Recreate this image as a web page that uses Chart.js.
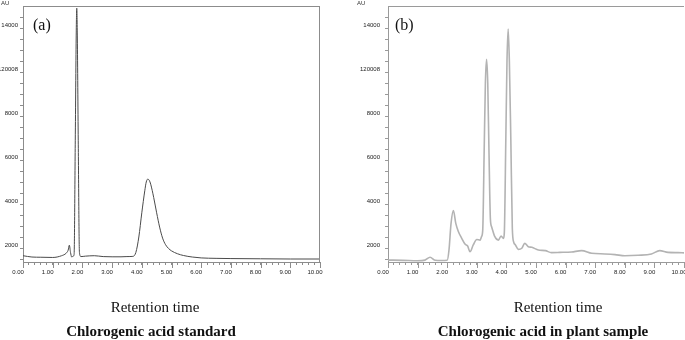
<!DOCTYPE html>
<html>
<head>
<meta charset="utf-8">
<script src="https://cdn.jsdelivr.net/npm/chart.js@4.4.0/dist/chart.umd.min.js"></script>
<style>
    body { margin: 0; background: #fff; }
    #wrap { position: relative; width: 685px; height: 340px; overflow: hidden; background: #fff; }
    canvas { position: absolute; top: 0; }
    .serif { position: absolute; font-family: 'Liberation Serif', 'Times New Roman', serif; color: #111; white-space: nowrap; transform: translate(-50%, -50%); }
    .cap { font-size: 15px; }
    .bold { font-size: 15px; font-weight: bold; }
    .tag { font-size: 16px; transform: translate(0, -50%); }
    .au { position: absolute; font-family: 'Liberation Sans', Arial, sans-serif; font-size: 6px; color: #333; top: 0px; }
</style>
</head>
<body>
<div id="wrap">
    <canvas id="chart_a" width="342" height="340" style="left:0px"></canvas>
    <canvas id="chart_b" width="343" height="340" style="left:342px"></canvas>

    <div class="au" style="left:1px">AU</div>
    <div class="au" style="left:357px">AU</div>
    <div class="serif tag" style="left:33px; top:25px">(a)</div>
    <div class="serif tag" style="left:395px; top:25px">(b)</div>

    <div class="serif cap" style="left:155px; top:307px">Retention time</div>
    <div class="serif bold" style="left:151px; top:331px">Chlorogenic acid standard</div>
    <div class="serif cap" style="left:558px; top:307px">Retention time</div>
    <div class="serif bold" style="left:543px; top:331px">Chlorogenic acid in plant sample</div>
</div>
<script>
// retention time (min) and detector signal
const times_a = [0, 0.3, 0.6, 1.0, 1.3, 1.45, 1.52, 1.56, 1.6, 1.64,
    1.68, 1.72, 1.76, 1.79, 1.81, 1.83, 1.86, 1.9, 1.95, 2.1,
    2.4, 2.7, 3.0, 3.3, 3.5, 3.7, 3.8, 3.9, 4.0, 4.1,
    4.15, 4.2, 4.25, 4.3, 4.4, 4.5, 4.6, 4.7, 4.8, 4.9,
    5.0, 5.2, 5.4, 5.7, 6.0, 6.5, 7.0, 8.0, 9.0, 10.0];
const signal_a = [1650, 1590, 1580, 1570, 1650, 1760, 1900, 2130, 1800, 1590,
    1620, 1700, 6900, 11500, 12900, 11500, 6900, 1800, 1610, 1630,
    1650, 1610, 1600, 1600, 1610, 1620, 1800, 2500, 3600, 4600,
    5000, 5130, 5080, 4900, 4300, 3600, 2950, 2450, 2150, 1980,
    1870, 1740, 1660, 1590, 1550, 1530, 1520, 1510, 1500, 1500];

const times_b = [0, 0.5, 1.0, 1.25, 1.42, 1.6, 1.8, 2.0,
    2.06, 2.13, 2.21, 2.29, 2.38, 2.49, 2.6, 2.69, 2.77, 2.88,
    3.0, 3.11, 3.16, 3.2, 3.25, 3.29, 3.33, 3.37, 3.41, 3.46,
    3.5, 3.61, 3.73, 3.82, 3.9, 3.93, 3.98, 4.02, 4.06, 4.1,
    4.15, 4.2, 4.25, 4.3, 4.4, 4.52, 4.62, 4.74, 4.86, 5.08,
    5.32, 5.52, 5.8, 6.2, 6.54, 6.88, 7.33, 7.67, 8.0, 8.45,
    8.9, 9.18, 9.46, 9.8, 10.0];
const signal_b = [1450, 1440, 1420, 1450, 1580, 1440, 1430, 1440,
    1900, 3120, 3700, 3120, 2740, 2440, 2180, 2090, 1830, 2140,
    2390, 2360, 2520, 2800, 6500, 9500, 10580, 9500, 6500, 3300,
    2970, 2515, 2360, 2545, 2440, 2700, 6900, 10500, 11955, 10500,
    6900, 2900, 2250, 2150, 1940, 1990, 2210, 2060, 2030, 1910,
    1880, 1790, 1800, 1820, 1880, 1760, 1730, 1700, 1650, 1670,
    1730, 1880, 1800, 1790, 1780];

// axis ticks (the printed y labels are spaced evenly, typo included)
const y_tick_values = [2000, 4000, 6000, 8000, 10000, 12000];
const y_tick_labels = ["2000", "4000", "6000", "8000", "120008", "14000"];
const y_minor_step = 500;
const x_major_ticks = [0, 1, 2, 3, 4, 5, 6, 7, 8, 9, 10];

const y_min = 1364;
const y_max = 13000;

const tick_font = { family: "'Liberation Sans Narrow', 'Liberation Sans', Arial, sans-serif", size: 6 };

// top / right frame and the longer major ticks on the time axis
const frame_plugin = {
    id: 'frame',
    afterDraw(chart, args, opts) {
        const ctx = chart.ctx;
        const a = chart.chartArea;
        const xs = chart.scales.x;
        ctx.save();
        ctx.strokeStyle = opts.color;
        ctx.lineWidth = 1;
        ctx.beginPath();
        ctx.moveTo(a.left, a.top + 0.5);
        ctx.lineTo(a.right, a.top + 0.5);
        if (opts.right) {
            ctx.moveTo(a.right - 0.5, a.top);
            ctx.lineTo(a.right - 0.5, a.bottom);
        }
        x_major_ticks.forEach(v => {
            let px = Math.round(xs.getPixelForValue(v)) + 0.5;
            ctx.moveTo(px, a.bottom);
            ctx.lineTo(px, a.bottom + 6);
        });
        ctx.stroke();
        ctx.restore();
    }
};

function make_chart(id, times, signal, style) {
    let points = times.map((t, i) => ({ x: t, y: signal[i] }));
    return new Chart(document.getElementById(id).getContext('2d'), {
        type: 'line',
        data: {
            datasets: [{
                data: points,
                borderColor: style.line,
                borderWidth: style.width,
                pointRadius: 0,
                fill: false,
                cubicInterpolationMode: 'monotone'
            }]
        },
        plugins: [frame_plugin],
        options: {
            responsive: false,
            animation: false,
            events: [],
            layout: { padding: { left: 0, right: style.pad_right, top: 6, bottom: 64 } },
            plugins: {
                legend: { display: false },
                tooltip: { enabled: false },
                frame: { color: style.axis, right: style.right }
            },
            scales: {
                x: {
                    type: 'linear',
                    min: 0,
                    max: 10,
                    afterFit: s => { s.height = 14; s.paddingLeft = 0; s.paddingRight = 0; },
                    border: { display: true, color: style.axis, width: 1 },
                    grid: { drawOnChartArea: false, drawTicks: true, tickLength: 3, color: style.axis },
                    ticks: {
                        stepSize: 0.2,
                        autoSkip: false,
                        maxRotation: 0,
                        includeBounds: false,
                        padding: 4,
                        labelOffset: -5,
                        color: '#222',
                        font: tick_font,
                        callback: v => Math.abs(v - Math.round(v)) < 1e-6 ? Math.round(v).toFixed(2) : ''
                    }
                },
                y: {
                    type: 'linear',
                    min: y_min,
                    max: y_max,
                    // minor ticks every 500, labels only on the printed values
                    afterBuildTicks: s => {
                        let list = [];
                        for (let v = Math.ceil(y_min / y_minor_step) * y_minor_step; v < y_max; v += y_minor_step) {
                            list.push({ value: v });
                        }
                        s.ticks = list;
                    },
                    afterFit: s => { s.width = style.y_width; s.paddingTop = 0; s.paddingBottom = 0; },
                    border: { display: true, color: style.axis, width: 1 },
                    grid: { drawOnChartArea: false, drawTicks: true, tickLength: 3, color: style.axis },
                    ticks: {
                        autoSkip: false,
                        padding: style.y_pad,
                        labelOffset: -3,
                        color: '#222',
                        font: tick_font,
                        callback: v => {
                            let k = y_tick_values.indexOf(v);
                            return k >= 0 ? y_tick_labels[k] : '';
                        }
                    }
                }
            }
        }
    });
}

make_chart('chart_a', times_a, signal_a,
    { line: '#4a4a4a', width: 1, axis: '#8c8c8c', right: true, pad_right: 22, y_width: 23, y_pad: 2 });
make_chart('chart_b', times_b, signal_b,
    { line: '#b3b3b3', width: 1.6, axis: '#9a9a9a', right: false, pad_right: 1, y_width: 46, y_pad: 5 });
</script>
</body>
</html>
